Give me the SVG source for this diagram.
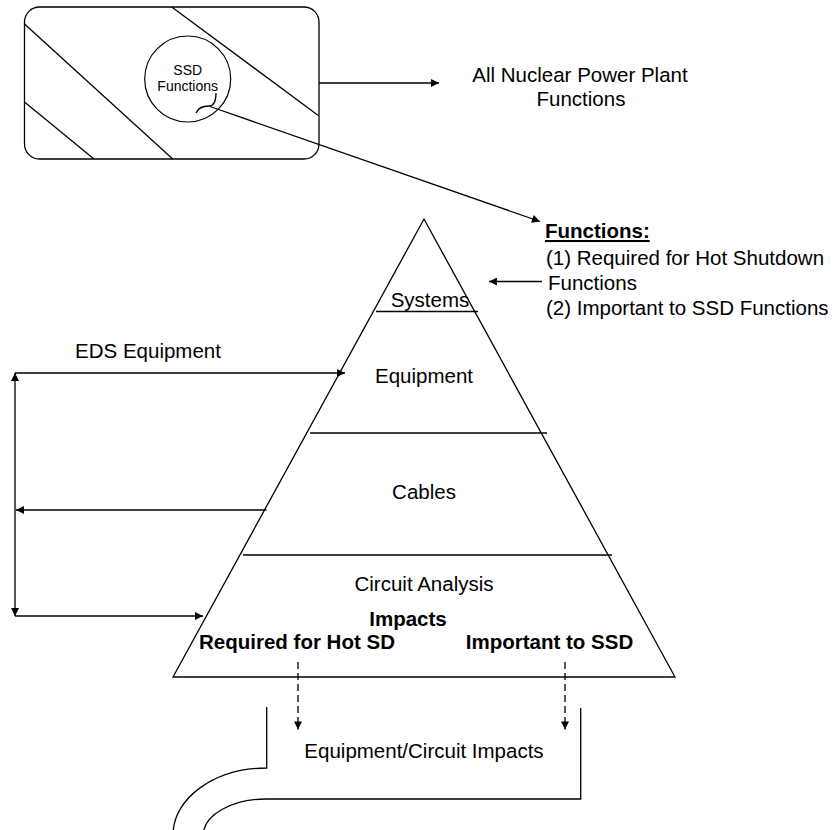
<svg xmlns="http://www.w3.org/2000/svg" width="838" height="830" viewBox="0 0 838 830">
  <style>
    .ln { fill: none; stroke: #000; stroke-width: 1.3; }
    .dash { fill: none; stroke: #000; stroke-width: 1.3; stroke-dasharray: 7 4; }
    .t { font-family: "Liberation Sans", Arial, sans-serif; font-size: 20.5px; fill: #000; }
    .tb { font-family: "Liberation Sans", Arial, sans-serif; font-size: 20.5px; font-weight: bold; fill: #000; }
    .ts { font-family: "Liberation Sans", Arial, sans-serif; font-size: 14px; fill: #000; }
    .c { text-anchor: middle; }
  </style>
  <defs>
    <marker id="arrow" viewBox="0 0 10 10" refX="10" refY="5" markerWidth="10" markerHeight="8" markerUnits="userSpaceOnUse" orient="auto-start-reverse">
      <path d="M0,0 L10,5 L0,10 Z" fill="#000"/>
    </marker>
    <clipPath id="boxClip">
      <rect x="24.5" y="7" width="294.5" height="152" rx="15"/>
    </clipPath>
  </defs>
  <rect width="838" height="830" fill="#fff"/>

  <!-- plant functions box with SSD subset -->
  <g id="plant-functions">
    <rect class="ln" x="24.5" y="7" width="294.5" height="152" rx="15"/>
    <g clip-path="url(#boxClip)">
      <line class="ln" x1="171.7" y1="7" x2="319" y2="116"/>
      <line class="ln" x1="24.5" y1="24" x2="172.7" y2="159"/>
      <line class="ln" x1="24.5" y1="102" x2="94" y2="159"/>
    </g>
    <circle cx="187.7" cy="79" r="43" fill="#fff" stroke="#000" stroke-width="1.2"/>
    <text class="ts c" x="187.7" y="75">SSD</text>
    <text class="ts c" x="187.7" y="91">Functions</text>
    <path class="ln" d="M196,113 C198,108 203,106 209,106 C214,106 216,100 216,93"/>
  </g>

  <g id="all-functions-label">
    <text class="t c" x="580" y="82">All Nuclear Power Plant</text>
    <text class="t c" x="581" y="106">Functions</text>
  </g>

  <g id="functions-list">
    <text class="tb" x="545" y="238" text-decoration="underline">Functions:</text>
    <text class="t" x="546" y="265">(1) Required for Hot Shutdown</text>
    <text class="t" x="548" y="290">Functions</text>
    <text class="t" x="546" y="315">(2) Important to SSD Functions</text>
  </g>

  <!-- analysis pyramid -->
  <g id="pyramid">
    <path class="ln" d="M173,677 L424,219 L675,677 Z"/>
    <line class="ln" x1="376" y1="311.5" x2="478" y2="311.5"/>
    <line class="ln" x1="310" y1="433" x2="547" y2="433"/>
    <line class="ln" x1="243" y1="555" x2="612" y2="555"/>
    <text class="t c" x="430" y="306.5">Systems</text>
    <text class="t c" x="424" y="383">Equipment</text>
    <text class="t c" x="424" y="498.5">Cables</text>
    <text class="t c" x="424" y="591">Circuit Analysis</text>
    <text class="tb c" x="408" y="626">Impacts</text>
    <text class="tb c" x="297" y="649">Required for Hot SD</text>
    <text class="tb c" x="549.5" y="649">Important to SSD</text>
  </g>

  <g id="eds-label">
    <text class="t c" x="148" y="357.5">EDS Equipment</text>
  </g>

  <!-- resulting impacts bracket -->
  <g id="impacts-output">
    <path class="ln" d="M266.7,707 L266.7,768 C214.8,768 173,798 173,835"/>
    <path class="ln" d="M580.7,708 L580.7,799 L266.7,799 C231.7,799 203.3,815 203.3,835"/>
    <text class="t c" x="424" y="758">Equipment/Circuit Impacts</text>
  </g>

  <g id="connectors">
    <line class="ln" x1="319" y1="83" x2="439" y2="83" marker-end="url(#arrow)"/>
    <line class="ln" x1="210" y1="106.5" x2="540" y2="221.5" marker-end="url(#arrow)"/>
    <line class="ln" x1="542" y1="281.5" x2="489" y2="281.5" marker-end="url(#arrow)"/>
    <line class="ln" x1="15" y1="373" x2="15" y2="616" marker-start="url(#arrow)" marker-end="url(#arrow)"/>
    <line class="ln" x1="15" y1="373" x2="345" y2="373" marker-end="url(#arrow)"/>
    <line class="ln" x1="266.5" y1="510" x2="16" y2="510" marker-end="url(#arrow)"/>
    <line class="ln" x1="15" y1="616" x2="203" y2="616" marker-end="url(#arrow)"/>
    <line class="dash" x1="298" y1="662" x2="298" y2="729.5" marker-end="url(#arrow)"/>
    <line class="dash" x1="565" y1="662" x2="565" y2="729.5" marker-end="url(#arrow)"/>
  </g>
</svg>
